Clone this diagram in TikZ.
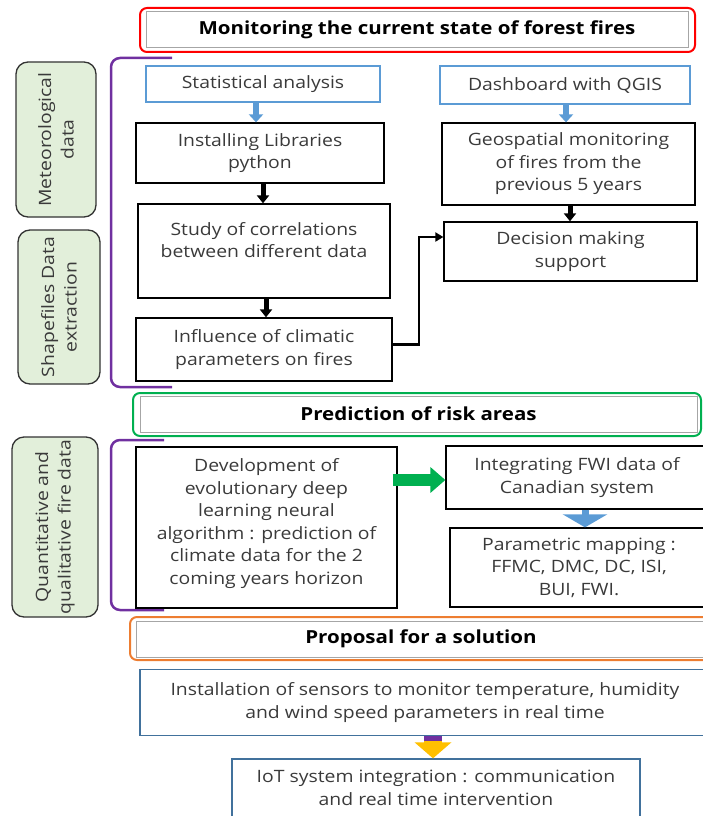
\documentclass[tikz,border=0pt]{standalone}
\usepackage{fontspec}
\setmainfont{Open Sans}[FakeStretch=1.14]
\usetikzlibrary{arrows.meta}

\definecolor{lineblue}{HTML}{5B9BD5}
\definecolor{darkblue}{HTML}{41719C}
\definecolor{sidegreen}{HTML}{E2EFDA}
\definecolor{headred}{HTML}{FF0000}
\definecolor{headgreen}{HTML}{00B050}
\definecolor{headorange}{HTML}{ED7D31}
\definecolor{bracepurple}{HTML}{7030A0}
\definecolor{arrowyellow}{HTML}{FFC000}
\definecolor{textgray}{HTML}{3A3A3A}

\begin{document}
\begin{tikzpicture}[x=1pt,y=-1pt,
	every node/.style={font=\fontsize{17}{22.5}\selectfont, text=textgray, align=center, inner sep=0pt},
	outerbox/.style={draw=#1, line width=2pt, rounded corners=7pt},
	innerbox/.style={draw=gray!70, line width=1pt, text=black, font=\fontsize{18}{22.5}\selectfont\bfseries},
	task/.style={draw=black, line width=1.3pt},
	source/.style={draw=lineblue, line width=1.3pt},
	action/.style={draw=darkblue, line width=1.3pt},
	side/.style={draw=black!80, line width=1.3pt, fill=sidegreen, rounded corners=12pt, rotate=90},
	brace/.style={draw=bracepurple, line width=2.5pt, rounded corners=9pt},
	blue arrow/.style={lineblue, line width=6pt, -{Triangle[width=14pt,length=8pt]}},
	black arrow/.style={black, line width=5pt, -{Triangle[width=12pt,length=8pt]}},
	link/.style={black, line width=2.2pt, -{Triangle[width=9pt,length=8pt]}}]
	\useasboundingbox (0,0) rectangle (702,816);

	% monitoring part
	\node[outerbox=headred, minimum width=555pt, minimum height=44pt] (monframe) at (417.5,30) {};
	\node[innerbox, minimum width=542pt, minimum height=36pt] (mon) at (417,30) {Monitoring the current state of forest fires};
	\node[side, minimum width=155pt, minimum height=80pt] (met) at (56,139.5) {Meteorological\\data};
	\node[side, minimum width=154pt, minimum height=82pt] (shp) at (59,307) {Shapefiles Data\\extraction};
	\draw[brace] (172,58) -- (111,58) -- (111,387) -- (172,387);

	\node[source, minimum width=234pt, minimum height=36pt] (stat) at (263,84) {Statistical analysis};
	\node[task, minimum width=248pt, minimum height=60pt] (inst) at (260,153) {Installing Libraries\\python};
	\node[task, minimum width=252pt, minimum height=94pt] (corr) at (264,251) {Study of correlations\\between different data\\[0pt]\mbox{}};
	\node[task, minimum width=256pt, minimum height=63pt] (infl) at (264,349.5) {Influence of climatic\\parameters on fires};
	\node[source, minimum width=250pt, minimum height=38pt] (dash) at (565,85) {Dashboard with QGIS};
	\node[task, minimum width=253pt, minimum height=82pt] (geo) at (568.5,164) {Geospatial monitoring\\of fires from the\\previous 5 years};
	\node[task, minimum width=253pt, minimum height=59pt] (dec) at (570.5,251.5) {Decision making\\support};

	\draw[blue arrow] ([xshift=-7pt]stat.south) -- ([xshift=-4pt]inst.north);
	\draw[black arrow] ([xshift=3pt]inst.south) -- ([xshift=-1pt]corr.north);
	\draw[black arrow] ([xshift=2pt]corr.south) -- ([xshift=2pt]infl.north);
	\draw[blue arrow] ([xshift=1pt]dash.south) -- ([xshift=-2.5pt]geo.north);
	\draw[black arrow] ([xshift=1.5pt]geo.south) -- ([xshift=-0.5pt]dec.north);
	\draw[link] ([yshift=5pt]infl.east) -- ++(26,0) |- ([yshift=14.5pt]dec.west);

	% prediction part
	\node[outerbox=headgreen, minimum width=568pt, minimum height=43pt] (predframe) at (417,414.5) {};
	\node[innerbox, minimum width=557pt, minimum height=36pt] (pred) at (418.5,414) {Prediction of risk areas};
	\node[side, minimum width=180pt, minimum height=86pt] (qnt) at (55,527) {Quantitative and\\qualitative fire data};
	\draw[brace] (164,440) -- (111,440) -- (111,610) -- (164,610);

	\node[task, minimum width=261pt, minimum height=161pt] (dev) at (266.5,527.5) {Development of\\evolutionary deep\\learning neural\\algorithm : prediction of\\climate data for the 2\\coming years horizon\\[-10pt]\mbox{}};
	\node[task, minimum width=262pt, minimum height=63pt] (fwi) at (577,477.5) {Integrating FWI data of\\Canadian system};
	\node[task, minimum width=258pt, minimum height=79pt] (par) at (579,567.5) {Parametric mapping :\\FFMC, DMC, DC, ISI,\\BUI, FWI.};

	\path (dev.east |- fwi.west) ++(-5,2.5) coordinate (devout);
	\draw[headgreen, line width=12pt, -{Triangle[width=25pt,length=15pt]}] (devout) -- (devout -| fwi.west);
	\draw[lineblue, line width=7pt, -{Triangle[width=44pt,length=13pt]}] ([xshift=8pt]fwi.south) -- ([xshift=6pt]par.north);

	% solution part
	\node[outerbox=headorange, minimum width=582pt, minimum height=43pt] (propframe) at (421,638.5) {};
	\node[innerbox, minimum width=570pt, minimum height=36pt] (prop) at (421,639) {Proposal for a solution};
	\node[action, minimum width=570pt, minimum height=66pt] (sens) at (425,702.5) {Installation of sensors to monitor temperature, humidity\\and wind speed parameters in real time};
	\node[action, minimum width=408pt, minimum height=76pt] (iot) at (436,797) {IoT system integration : communication\\and real time intervention\\[-4pt]\mbox{}};

	\draw[arrowyellow, line width=18pt, -{Triangle[width=36pt,length=16pt]}] ([xshift=8pt]sens.south) -- ([xshift=-3pt]iot.north);
	\fill[bracepurple] (424,735.5) rectangle (442,740.5);
\end{tikzpicture}
\end{document}
